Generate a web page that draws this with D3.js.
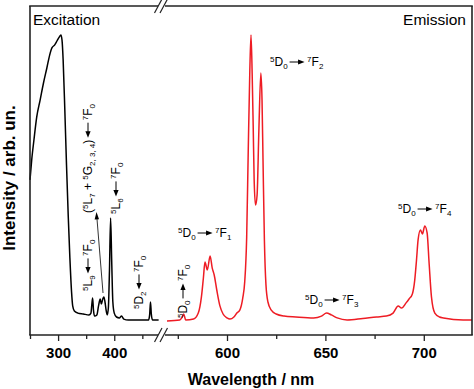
<!DOCTYPE html>
<html>
<head>
<meta charset="utf-8">
<script src="https://cdn.jsdelivr.net/npm/d3@7"></script>
<style>
body { margin:0; background:#fff; }
text { font-family: "Liberation Sans", Arial, sans-serif; }
</style>
</head>
<body>
<script>
// excitation spectrum (nm, normalised intensity)
var exWave = [250,253,257,262,268,274,280,285,289,294,298,302,305,307,309,312,315,318,321,324,326,329,335,345,355,358.5,360,361.5,363,365,369,372,375,377,379.5,381.5,383.5,385.5,387.5,389.5,391.5,393.5,395.5,397.5,400,404,409,413,417,425,445,461,463,464.5,466,468,479];
var exInt  = [0.517,0.583,0.65,0.727,0.783,0.84,0.89,0.933,0.957,0.967,0.98,0.993,1.0,0.983,0.917,0.75,0.567,0.4,0.257,0.143,0.097,0.08,0.073,0.07,0.067,0.073,0.1,0.123,0.083,0.063,0.067,0.097,0.12,0.103,0.12,0.127,0.11,0.083,0.067,0.09,0.217,0.39,0.243,0.11,0.073,0.06,0.057,0.063,0.053,0.05,0.05,0.05,0.067,0.11,0.07,0.05,0.05];

// emission spectrum
var emWave = [569.5,576,577,578,579,583,585.4,587,588,588.8,590,591.4,592.5,593.5,594.8,596.4,598,600,601.5,603.5,605,606.5,608,609,610,610.8,611.6,612.2,612.8,613.3,613.8,614.5,615.3,616.2,617.2,617.8,618.3,619,619.8,620.8,622.5,625,629,635,644,648,650.6,653,656,661,669,676,681,684.4,687,688.7,691,692.5,694.2,695.4,696.3,697.1,698.3,699.3,700.5,701.7,702.7,703.9,705.6,708,710,720,724.5];
var emInt  = [0.047,0.05,0.057,0.07,0.05,0.053,0.073,0.127,0.19,0.243,0.217,0.263,0.223,0.2,0.15,0.097,0.07,0.057,0.053,0.06,0.073,0.083,0.123,0.177,0.327,0.617,0.883,1.0,0.867,0.7,0.517,0.433,0.467,0.683,0.873,0.783,0.583,0.317,0.167,0.11,0.083,0.07,0.063,0.06,0.057,0.063,0.073,0.067,0.057,0.05,0.055,0.06,0.063,0.073,0.097,0.09,0.107,0.12,0.137,0.183,0.25,0.317,0.35,0.337,0.363,0.34,0.24,0.127,0.073,0.06,0.057,0.05,0.05];

var leftTicks = [300, 400], leftMinor = [250, 350, 450];
var rightTicks = [600, 650, 700], rightMinor = [575, 625, 675];

var W = 474, H = 389;
var top_ = 6, bottom = 335, left = 30, right = 472;

var svg = d3.select("body").append("svg").attr("width", W).attr("height", H);

var xL = d3.scaleLinear().domain([250, 485]).range([left, 162]);
var xR = d3.scaleLinear().domain([569, 724.5]).range([166, right]);
var y = d3.scaleLinear().domain([0, 1.1]).range([bottom, bottom - 330]);

// curves
var exData = exWave.map(function(w, i){ return [w, exInt[i]]; });
var emData = emWave.map(function(w, i){ return [w, emInt[i]]; });

svg.append("path").datum(exData)
    .attr("d", d3.line().x(function(d){ return xL(d[0]); }).y(function(d){ return y(d[1]); }).curve(d3.curveMonotoneX))
    .attr("fill", "none").attr("stroke", "#000").attr("stroke-width", 1.5);

svg.append("path").datum(emData)
    .attr("d", d3.line().x(function(d){ return xR(d[0]); }).y(function(d){ return y(d[1]); }).curve(d3.curveMonotoneX))
    .attr("fill", "none").attr("stroke", "#ee1c24").attr("stroke-width", 1.5);

// frame
var fc = "#222", fw = 1.6;
function seg(x1, y1, x2, y2, w) {
    svg.append("line").attr("x1", x1).attr("y1", y1).attr("x2", x2).attr("y2", y2)
        .attr("stroke", fc).attr("stroke-width", w || fw);
}
seg(left, top_, left, bottom);
seg(right, top_, right, bottom);
seg(left - 0.8, bottom, 158, bottom);
seg(165, bottom, right + 0.8, bottom);
seg(left - 0.8, top_, 158, top_);
seg(165, top_, right + 0.8, top_);
// break marks
[[bottom], [top_]].forEach(function(r){
    var yy = r[0];
    seg(154.5, yy + 7, 162, yy - 7, 1.2);
    seg(160, yy + 7, 167.5, yy - 7, 1.2);
});

// ticks
function ticks(scale, vals, minor) {
    var ax = d3.axisBottom(scale).tickValues(vals).tickSizeOuter(0)
        .tickSize(minor ? 4 : 6).tickPadding(6)
        .tickFormat(minor ? "" : d3.format("d"));
    var g = svg.append("g").attr("transform", "translate(0," + bottom + ")").call(ax);
    g.select(".domain").remove();
    g.selectAll("line").attr("stroke", fc).attr("stroke-width", 1.3);
    g.selectAll("text").attr("font-size", 15).attr("font-weight", "bold")
        .attr("fill", "#000").attr("font-family", "Liberation Sans, Arial, sans-serif");
}
ticks(xL, leftTicks, false);
ticks(xL, leftMinor, true);
ticks(xR, rightTicks, false);
ticks(xR, rightMinor, true);

// axis titles
svg.append("text").attr("x", 251).attr("y", 385).attr("text-anchor", "middle")
    .attr("font-size", 16).attr("font-weight", "bold").text("Wavelength / nm");
svg.append("text").attr("transform", "translate(15,178) rotate(-90)").attr("text-anchor", "middle")
    .attr("font-size", 17).attr("font-weight", "bold").text("Intensity / arb. un.");

svg.append("text").attr("x", 33).attr("y", 25).attr("font-size", 15.5).text("Excitation");
svg.append("text").attr("x", 466).attr("y", 25).attr("text-anchor", "end").attr("font-size", 15.5).text("Emission");

// transition labels: terms with sup/sub and arrows
function label(x, yy, rot, parts) {
    var g = svg.append("g").attr("transform", "translate(" + x + "," + yy + ") rotate(" + rot + ")");
    var cx = 0;
    function put(t, dy, size) {
        var el = g.append("text").attr("x", cx).attr("y", dy).attr("font-size", size).text(t);
        cx += el.node().getComputedTextLength();
    }
    parts.forEach(function(p){
        if (p.arrow) {
            var x0 = cx + 2, x1 = cx + 17;
            if (p.arrow == "right") {
                g.append("line").attr("x1", x0).attr("y1", -4).attr("x2", x1 - 5).attr("y2", -4).attr("stroke", "#000").attr("stroke-width", 1);
                g.append("path").attr("d", "M" + x1 + ",-4L" + (x1 - 6.5) + ",-6.6L" + (x1 - 6.5) + ",-1.4Z").attr("fill", "#000");
            } else {
                g.append("line").attr("x1", x0 + 5).attr("y1", -4).attr("x2", x1).attr("y2", -4).attr("stroke", "#000").attr("stroke-width", 1);
                g.append("path").attr("d", "M" + x0 + ",-4L" + (x0 + 6.5) + ",-6.6L" + (x0 + 6.5) + ",-1.4Z").attr("fill", "#000");
            }
            cx = x1 + 2.5;
            return;
        }
        if (p.sup) put(p.sup, -4.5, 8);
        if (p.t) put(p.t, 0, 12);
        if (p.sub) put(p.sub, 3, 8);
    });
}
var R = { arrow: "right" }, L = { arrow: "left" };
function term(sup, t, sub) { return { sup: sup, t: t, sub: sub }; }

label(270, 66, 0, [term("5", "D", "0"), R, term("7", "F", "2")]);
label(178, 237, 0, [term("5", "D", "0"), R, term("7", "F", "1")]);
label(305, 304, 0, [term("5", "D", "0"), R, term("7", "F", "3")]);
label(398, 213, 0, [term("5", "D", "0"), R, term("7", "F", "4")]);

label(92, 291, -90, [term("5", "L", "9"), L, term("7", "F", "0")]);
label(92, 213, -90, [{ t: "(" }, term("5", "L", "7"), { t: "\u00a0+\u00a0" }, term("5", "G", "2,\u00a03,\u00a04"), { t: ")" }, L, term("7", "F", "0")]);
label(120, 214, -90, [term("5", "L", "6"), L, term("7", "F", "0")]);
label(143, 309, -90, [term("5", "D", "2"), L, term("7", "F", "0")]);
label(187, 318, -90, [term("5", "D", "0"), R, term("7", "F", "0")]);

// pointer from the 5L7 group up to its label
svg.append("line").attr("x1", xL(380)).attr("y1", y(0.14)).attr("x2", 97).attr("y2", 219)
    .attr("stroke", "#000").attr("stroke-width", 0.8);
svg.append("path").attr("d", "M96.5,212L94.6,219.5L99,219.2Z").attr("fill", "#000");
</script>
</body>
</html>
